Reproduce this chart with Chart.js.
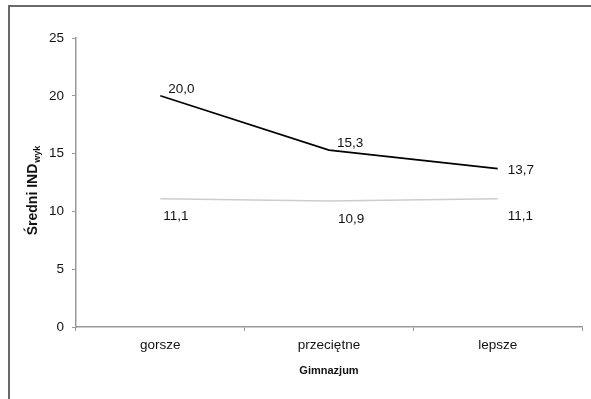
<!DOCTYPE html>
<html lang="pl">
<head>
<meta charset="UTF-8">
<title>Średni IND wyk</title>
<script src="https://cdn.jsdelivr.net/npm/chart.js"></script>
<style>
    body { margin: 0; background: #fff; }
    #wrap { position: relative; width: 591px; height: 399px; overflow: hidden; }
    #frame { position: absolute; left: 8px; top: 5px; width: 620px; height: 420px;
             border-top: 2px solid #6a6a6a; border-left: 2px solid #6a6a6a; }
    canvas { position: absolute; left: 0; top: 0; }
</style>
</head>
<body>
<div id="wrap">
    <div id="frame"></div>
    <canvas id="chart" width="591" height="399"></canvas>
</div>
<script>
    // dane
    const categories = ['gorsze', 'przeciętne', 'lepsze'];
    const seriesTop = [20.0, 15.3, 13.7];
    const seriesLow = [11.1, 10.9, 11.1];
    const yTicks = [0, 5, 10, 15, 20, 25];

    const fmt = v => v.toFixed(1).replace('.', ',');
    const FONT = '"Liberation Sans", Arial, sans-serif';

    // etykiety wartości przy punktach
    const valueLabels = {
        id: 'valueLabels',
        afterDatasetsDraw(chart) {
            const ctx = chart.ctx;
            ctx.save();
            ctx.font = '13.5px ' + FONT;
            ctx.fillStyle = '#111';
            ctx.textAlign = 'left';
            // seria górna: nad punktem, ostatnia obok
            chart.getDatasetMeta(0).data.forEach((pt, i) => {
                const v = chart.data.datasets[0].data[i];
                if (i < 2) {
                    ctx.textBaseline = 'bottom';
                    ctx.fillText(fmt(v), pt.x + 8, pt.y);
                } else {
                    ctx.textBaseline = 'middle';
                    ctx.fillText(fmt(v), pt.x + 10, pt.y + 2);
                }
            });
            // seria dolna: pod punktem
            const dx = [3, 9, 10];
            chart.getDatasetMeta(1).data.forEach((pt, i) => {
                const v = chart.data.datasets[1].data[i];
                ctx.textBaseline = 'middle';
                ctx.fillText(fmt(v), pt.x + dx[i], pt.y + 18);
            });
            ctx.restore();
        }
    };

    // tytuł osi Y z indeksem dolnym
    const yTitle = {
        id: 'yTitle',
        afterDraw(chart) {
            const ctx = chart.ctx;
            ctx.save();
            ctx.translate(37, 191);
            ctx.rotate(-Math.PI / 2);
            ctx.fillStyle = '#111';
            ctx.textBaseline = 'alphabetic';
            const main = 'Średni IND';
            const sub = 'wyk';
            ctx.font = 'bold 14px ' + FONT;
            const w1 = ctx.measureText(main).width;
            ctx.font = 'bold 9px ' + FONT;
            const w2 = ctx.measureText(sub).width;
            const start = -(w1 + w2) / 2;
            ctx.font = 'bold 14px ' + FONT;
            ctx.fillText(main, start, 0);
            ctx.font = 'bold 9px ' + FONT;
            ctx.fillText(sub, start + w1 + 1, 3);
            ctx.restore();
        }
    };

    new Chart(document.getElementById('chart'), {
        type: 'line',
        data: {
            labels: categories,
            datasets: [
                {
                    data: seriesTop,
                    borderColor: '#000',
                    borderWidth: 1.6,
                    pointRadius: 0,
                    tension: 0
                },
                {
                    data: seriesLow,
                    borderColor: '#cdcdcd',
                    borderWidth: 1.6,
                    pointRadius: 0,
                    tension: 0
                }
            ]
        },
        options: {
            responsive: false,
            animation: false,
            layout: { padding: { top: 38, right: 9, left: 0, bottom: 0 } },
            plugins: {
                legend: { display: false },
                tooltip: { enabled: false }
            },
            scales: {
                x: {
                    offset: true,
                    grid: {
                        offset: true,
                        drawOnChartArea: false,
                        drawTicks: true,
                        tickLength: 4,
                        color: '#999'
                    },
                    border: { color: '#999', width: 1.5 },
                    ticks: {
                        color: '#111',
                        padding: 6,
                        font: { family: FONT, size: 13.5 }
                    },
                    title: {
                        display: true,
                        text: 'Gimnazjum',
                        color: '#111',
                        font: { family: FONT, size: 11, weight: 'bold' },
                        padding: { top: 0, bottom: 21 }
                    },
                    afterFit(scale) { scale.height = 72; }
                },
                y: {
                    min: 0,
                    max: 25,
                    afterBuildTicks(scale) { scale.ticks = yTicks.map(v => ({ value: v })); },
                    grid: {
                        drawOnChartArea: false,
                        drawTicks: true,
                        tickLength: 4,
                        color: '#999'
                    },
                    border: { color: '#999', width: 1.5 },
                    ticks: {
                        color: '#111',
                        padding: 8,
                        font: { family: FONT, size: 13.5 }
                    },
                    afterFit(scale) { scale.width = 76; }
                }
            }
        },
        plugins: [valueLabels, yTitle]
    });
</script>
</body>
</html>
